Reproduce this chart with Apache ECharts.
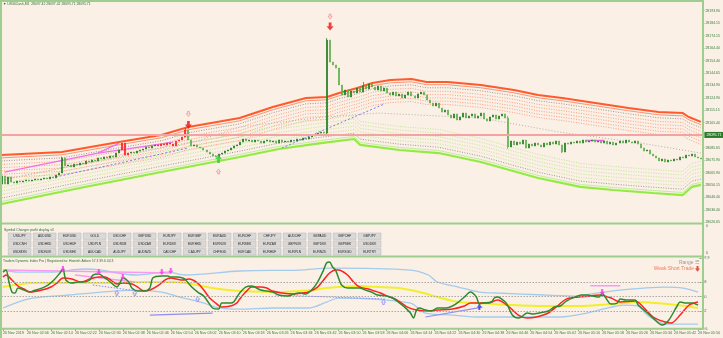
<!DOCTYPE html>
<html>
<head>
<meta charset="utf-8">
<script src="https://cdn.jsdelivr.net/npm/echarts@6/dist/echarts.min.js"></script>
<style>
html,body{margin:0;padding:0;background:#faf0e6;}
#c{width:723px;height:338px;}
</style>
</head>
<body>
<div id="c"></div>
<script>
// ---- price chart data (US30Cash, M1) ----
const timeLabels = ["26 Nov 2019","26 Nov 02:06","26 Nov 02:14","26 Nov 02:22","26 Nov 02:30","26 Nov 02:38",
  "26 Nov 02:46","26 Nov 02:54","26 Nov 03:02","26 Nov 03:10","26 Nov 03:18","26 Nov 03:26","26 Nov 03:34",
  "26 Nov 03:42","26 Nov 03:50","26 Nov 03:58","26 Nov 04:06","26 Nov 04:14","26 Nov 04:22","26 Nov 04:30",
  "26 Nov 04:38","26 Nov 04:46","26 Nov 04:54","26 Nov 05:02","26 Nov 05:10","26 Nov 05:18","26 Nov 05:26",
  "26 Nov 05:34","26 Nov 05:42","26 Nov 05:50"];

const firstOpen = 28056.9;
const closes = [
  28063.3,28056.9,28062.5,28058.5,28057.7,28059.3,28058.5,28059.3,28060.1,28059.3,
  28060.1,28060.9,28060.1,28060.9,28061.7,28060.9,28062.5,28061.7,28064.0,28065.6,
  28077.5,28071.2,28071.9,28070.4,28072.7,28071.9,28073.5,28072.7,28075.1,28074.3,
  28075.9,28075.1,28077.5,28076.7,28078.3,28077.5,28079.1,28078.3,28081.4,28083.8,
  28089.3,28079.8,28081.4,28082.2,28081.4,28083.0,28083.8,28084.6,28086.2,28085.4,
  28087.0,28087.8,28087.0,28088.5,28087.8,28089.3,28088.5,28087.0,28090.9,28091.7,
  28094.1,28099.6,28091.7,28087.0,28087.8,28086.2,28085.4,28083.8,28082.2,28080.6,
  28079.1,28078.3,28080.6,28081.4,28083.0,28083.8,28085.4,28087.0,28087.8,28090.1,
  28092.5,28090.9,28091.7,28090.1,28091.7,28090.9,28089.3,28090.9,28091.7,28090.1,
  28090.9,28089.3,28091.7,28090.1,28090.9,28090.1,28091.7,28090.9,28092.5,28091.7,
  28093.3,28092.5,28094.1,28094.9,28095.7,28097.2,28098.0,28097.2,28170.7,28153.3,
  28151.0,28148.6,28135.2,28127.3,28131.2,28125.7,28130.4,28128.9,28132.8,28129.6,
  28134.4,28132.0,28136.0,28133.6,28131.2,28134.4,28130.4,28132.8,28128.9,28127.3,
  28129.6,28126.5,28128.1,28124.9,28127.3,28129.6,28126.5,28124.9,28128.1,28129.6,
  28127.3,28123.3,28120.9,28118.6,28120.9,28117.0,28113.8,28115.4,28111.5,28109.1,
  28112.3,28107.5,28109.9,28113.0,28109.1,28110.7,28112.3,28109.1,28110.7,28113.0,
  28108.3,28106.7,28109.9,28111.5,28108.3,28110.7,28112.3,28109.1,28086.2,28090.9,
  28087.8,28090.1,28088.5,28091.7,28085.4,28088.5,28087.0,28089.3,28087.8,28086.2,
  28089.3,28087.8,28090.1,28088.5,28090.9,28087.8,28082.2,28089.3,28088.5,28090.1,
  28089.3,28090.9,28089.3,28091.7,28090.1,28090.9,28091.7,28090.1,28090.9,28089.3,
  28090.9,28088.5,28090.1,28087.8,28089.3,28090.9,28089.3,28091.7,28090.1,28089.3,
  28090.9,28088.5,28085.4,28083.0,28083.8,28080.6,28079.1,28077.5,28075.1,28076.7,
  28074.3,28075.9,28075.1,28076.7,28075.9,28078.3,28077.5,28079.8,28079.1,28080.6,
  28078.3,28077.5,28076.7
];
// wick extremes that reach beyond the candle bodies
const wickHighs = {20: 28078.6, 61: 28101.2, 108: 28172.3, 120: 28137.6, 168: 28110.7};
const wickLows  = {108: 28096.5, 168: 28084.6, 186: 28081.4};
// bars painted by the signal filter
const signalBars = [40,41,42,52,53,54,55,56,57,58,59,60,61];

const priceTicks = [28193.90,28184.15,28174.15,28164.40,28154.40,28144.65,28134.90,28124.90,28115.15,
  28105.40,28085.65,28075.90,28065.90,28056.15,28046.40,28036.40,28026.65];
const bidPrice = 28095.71;

// envelope bands: outer edge and level offsets (price units)
const upperBand = [[0,28079.8],[20,28082.2],[39,28090.1],[53,28095.7],[62,28102.0],[79,28109.1],[90,28117.8],
  [101,28124.9],[108,28125.7],[112,28128.9],[118,28132.8],[123,28136.8],[129,28139.1],[136,28139.9],[141,28137.6],
  [148,28137.6],[159,28135.2],[170,28131.2],[178,28127.3],[186,28124.9],[197,28121.0],[208,28117.0],[218,28113.8],
  [226,28113.0],[228,28109.9],[232,28106.0]];
const upperLevels = [0, 2.2, 4.6, 7.4, 10.0, 12.6, 15.2, 17.8];
const lowerBand = [[0,28041.1],[26,28053.8],[53,28066.4],[79,28078.3],[92,28084.6],[106,28089.3],[117,28092.5],
  [119,28087.8],[132,28083.8],[145,28081.4],[159,28074.3],[178,28061.7],[192,28054.6],[203,28052.2],[216,28049.8],
  [226,28048.2],[229,28054.6],[232,28056.2]];
const lowerLevels = [0, 2.0, 4.6, 7.4, 10.2, 13.0, 15.8, 18.6];
const midLine = [[0,28060.1],[33,28075.9],[66,28091.7],[79,28102.0],[107,28109.9],[125,28113.0],[159,28109.1],
  [185,28098.0],[212,28089.3],[232,28081.4]];
const trendA = [[18,28062.5],[62,28085.4]];
const trendB = [[93,28085.4],[127,28120.2]];
const pinkA = [[1,28066.4],[32,28081.4],[39,28089.3]];
const pinkB = [[32,28081.4],[57,28090.1]];
const pinkC = [[194,28091.3],[200,28091.3]];
const sellArrows = [[62,28103.6],[109,28181.4]];
const sellHollow = [[62,28112.3],[109,28189.3]];
const buyArrows = [[72,28076.7]];
const buyHollow = [[72,28066.8]];

// ---- Traders Dynamic Index ----
const tdiTicks = [97.9, 68, 50, 32, 9.6];
const tdiLevels = [68, 50, 32];
const tdiGreen = [[0,80.9],[1,83.4],[2,68.4],[3,55.8],[4,54.6],[5,60.8],[7,58.3],[9,55.8],[10,57.1],[13,60.8],
  [15,64.6],[17,70.9],[19,79.7],[20,84.7],[21,70.9],[23,67.1],[25,68.4],[27,68.4],[29,70.9],[30,77.2],[32,78.4],
  [34,73.4],[35,70.9],[37,64.6],[38,62.1],[39,67.1],[40,73.4],[42,68.4],[43,60.8],[45,57.1],[47,57.1],[49,60.8],
  [50,73.4],[53,75.9],[55,75.9],[56,74.6],[58,74.6],[60,73.4],[61,70.9],[63,62.1],[65,55.8],[67,50.8],[68,45.8],
  [70,35.8],[72,34.5],[73,42.0],[76,42.0],[77,43.3],[79,54.6],[81,62.1],[83,63.4],[86,58.3],[88,57.1],[90,55.8],
  [92,52.1],[95,50.8],[97,53.3],[99,54.6],[101,53.3],[103,58.3],[105,68.4],[107,83.4],[108,92.2],[109,93.5],
  [110,87.2],[111,83.4],[112,73.4],[113,64.6],[115,60.8],[119,60.8],[121,58.3],[123,55.8],[125,52.1],[128,50.8],
  [130,48.3],[132,43.3],[134,37.0],[136,29.5],[137,23.2],[138,33.2],[139,35.8],[141,33.2],[143,32.0],[145,35.8],
  [148,35.8],[150,38.3],[152,43.3],[154,49.6],[156,55.8],[158,49.6],[159,40.7],[160,42.0],[163,43.3],[164,48.3],
  [165,49.6],[166,48.3],[168,42.0],[170,27.0],[172,23.2],[173,24.5],[175,29.5],[177,28.2],[179,29.5],[182,32.0],
  [184,37.0],[186,38.3],[188,44.5],[191,49.6],[193,52.1],[195,52.1],[197,50.8],[199,49.6],[200,54.6],[201,49.6],
  [203,40.7],[205,42.0],[206,47.0],[208,45.8],[211,45.8],[212,39.5],[214,33.2],[217,23.2],[220,14.4],[222,19.4],
  [225,38.3],[226,43.3],[228,42.0],[230,42.0],[232,39.5]];
const tdiRed = [[0,74.6],[1,77.2],[3,70.9],[5,63.4],[7,59.6],[9,55.8],[13,58.3],[16,62.1],[18,67.1],[20,73.4],
  [23,72.1],[26,68.4],[29,72.1],[32,74.6],[34,74.6],[36,70.9],[38,65.9],[40,67.1],[43,65.9],[45,62.1],[47,57.1],
  [49,58.3],[52,64.6],[54,70.9],[56,73.4],[58,72.1],[60,70.9],[62,72.1],[65,67.1],[67,58.3],[69,48.3],[71,42.0],
  [73,37.0],[76,38.3],[78,42.0],[79,47.0],[81,55.8],[83,62.1],[86,62.1],[88,60.8],[90,57.1],[93,54.6],[97,53.3],
  [100,54.6],[102,55.8],[105,62.1],[107,70.9],[109,79.7],[111,83.4],[112,83.4],[115,77.2],[117,68.4],[119,62.1],
  [122,59.6],[124,57.1],[126,54.6],[129,49.6],[131,47.0],[133,42.0],[135,37.0],[138,33.2],[141,32.0],[145,33.2],
  [150,34.5],[154,38.3],[156,42.0],[159,42.0],[162,42.0],[165,45.8],[169,37.0],[172,27.0],[175,23.2],[178,24.5],
  [182,29.5],[185,38.3],[188,47.0],[192,49.6],[196,50.8],[199,52.1],[203,48.3],[206,43.3],[211,44.5],[214,35.8],
  [217,24.5],[221,18.2],[223,16.9],[226,27.0],[229,39.5],[232,43.3]];
const tdiBase = [[0,62.1],[4,64.6],[10,67.1],[22,67.1],[33,67.1],[44,68.4],[55,68.4],[61,67.1],[68,62.1],[75,58.3],
  [79,57.1],[92,55.8],[103,58.3],[108,60.8],[112,62.1],[119,63.4],[125,62.1],[132,60.8],[139,55.8],[145,49.6],
  [152,43.3],[159,42.0],[170,39.5],[181,38.3],[192,38.3],[203,40.7],[212,43.3],[218,42.0],[225,39.5],[232,35.8]];
const tdiUpper = [[0,83.4],[5,80.9],[16,80.9],[27,84.7],[33,83.4],[38,79.7],[44,77.2],[55,80.9],[61,77.2],
  [79,82.2],[99,83.4],[109,85.9],[136,83.4],[142,77.2],[145,68.4],[152,62.1],[159,55.8],[165,54.6],[181,52.1],
  [192,50.8],[196,53.3],[206,58.3],[214,60.8],[221,62.1],[227,60.8],[232,55.8]];
const tdiLower = [[0,35.8],[5,43.3],[10,48.3],[22,52.1],[33,55.8],[44,58.3],[53,55.8],[59,49.6],[66,43.3],
  [71,37.0],[77,34.5],[79,34.5],[90,35.8],[102,35.8],[108,43.3],[112,48.3],[136,42.0],[141,29.5],[150,27.0],
  [159,24.5],[175,24.5],[186,24.5],[195,29.5],[203,37.0],[207,39.5],[212,38.3],[215,27.0],[221,15.7],[232,15.7]];
const tdiPinkA = [[0,83.4],[56,79.7]];
const tdiPinkB = [[24,77.2],[44,68.4]];
const tdiPinkC = [[196,63.8],[206,63.8]];
const tdiDotA = [[30,64.6],[45,57.1]];
const tdiDotB = [[91,52.1],[128,47.0]];
const tdiSlopeA = [[49,27.0],[70,29.5]];
const tdiSlopeB = [[141,24.5],[160,37.0]];
const tdiSellMarks = [[20,84.7],[32,80.9],[40,74.6],[53,80.9],[56,82.2],[200,55.8]];
const tdiBuyHollow = [[38,54.6],[44,54.6],[65,47.0],[127,43.3]];
const tdiBuyFilled = [[159,37.0]];

// ---- symbol changer panel ----
const symbolRows = [
  ["USDJPY","AUDUSD","EURUSD","GOLD","USDCHF","GBPUSD","EURJPY","EURGBP","EURAUD","EURCHF","CHFJPY","AUDCHF","GBPAUD","GBPCHF","GBPJPY"],
  ["USDCNH","USDHKD","USDHUF","USDPLN","USDRUB","USDZAR","EURDKK","EURHKD","EURNOK","EURSEK","EURZAR","GBPNOK","GBPDKK","GBPSEK","USDDKK"],
  ["USDMXN","USDNOK","USDSEK","AUDCAD","AUDJPY","AUDNZD","CADCHF","CADJPY","CHFSGD","EURCAD","EURHUF","EURPLN","EURNZD","EURSGD","EURTRY"]
];

// ---------------------------------------------------------------
const FONT = 'Liberation Sans, Arial, sans-serif';
const FRAME = '#9fcc8f';
const AXIS_TXT = '#3b7a3b';
const cats = closes.map((_, i) => String(i));

const candles = closes.map((c, i) => {
  const o = i === 0 ? firstOpen : closes[i - 1];
  const h = wickHighs[i] !== undefined ? wickHighs[i] : Math.max(o, c);
  const l = wickLows[i] !== undefined ? wickLows[i] : Math.min(o, c);
  const item = { value: [o, c, l, h] };
  if (signalBars.indexOf(i) >= 0) {
    item.itemStyle = { color: '#ff1c1c', color0: '#ff1c1c', borderColor: '#ff1c1c', borderColor0: '#ff1c1c' };
  }
  return item;
});

function line(data, xi, color, width, type, extra) {
  return Object.assign({
    type: 'line', xAxisIndex: xi, yAxisIndex: xi, data: data, symbol: 'none', silent: true,
    animation: false, lineStyle: { color: color, width: width, type: type || 'solid' }
  }, extra || {});
}

const series = [];
// upper envelope
upperLevels.forEach((off, k) => {
  const d = upperBand.map(p => [p[0], p[1] - off]);
  let st;
  if (k === 0) st = ['#ff5a2c', 2, 'solid'];
  else if (k === 1) st = ['#ff9473', 1, 'solid'];
  else if (k === 2) st = ['#a09792', 1, [1, 1.5]];
  else st = ['#ff9e80', 1, [1, 1.5]];
  series.push(line(d, 0, st[0], st[1], st[2], { z: 2 }));
});
// lower envelope
lowerLevels.forEach((off, k) => {
  const d = lowerBand.map(p => [p[0], p[1] + off]);
  let st;
  if (k === 0) st = ['#92ea42', 2.2, 'solid'];
  else if (k === 1) st = ['#c2ee9c', 1, 'solid'];
  else if (k === 2) st = ['#a09792', 1, [1, 1.5]];
  else st = ['#c4e596', 1, [1, 1.5]];
  series.push(line(d, 0, st[0], st[1], st[2], { z: 2 }));
});
series.push(line(midLine, 0, '#b8aea8', 1, [1, 2], { z: 2 }));
series.push(line(trendA, 0, '#7d7df0', 1, [2, 2], { z: 3 }));
series.push(line(trendB, 0, '#7d7df0', 1, [2, 2], { z: 3 }));
series.push(line(pinkA, 0, '#f070e8', 1.3, 'solid', { z: 3 }));
series.push(line(pinkB, 0, '#f070e8', 1.3, 'solid', { z: 3 }));
series.push(line(pinkC, 0, '#f060f0', 1.5, 'solid', { z: 3 }));

series.push({
  type: 'candlestick', xAxisIndex: 0, yAxisIndex: 0, data: candles, barWidth: 1.5, silent: true,
  animation: false, z: 4,
  itemStyle: { color: '#1f7d1f', color0: '#5fae4c', borderColor: '#1f7d1f', borderColor0: '#5fae4c', borderWidth: 0.7 },
  markLine: {
    symbol: 'none', silent: true, animation: false,
    data: [{ yAxis: bidPrice }],
    lineStyle: { color: '#f4a2a2', width: 2, type: 'solid' },
    label: {
      show: true, position: 'end', distance: 2, formatter: () => bidPrice.toFixed(2),
      color: '#ffffff', backgroundColor: '#2b7a2b', fontSize: 3.6, fontFamily: FONT, padding: [1, 2, 1, 2]
    }
  }
});

const ARROW_DOWN = 'path://M3,0 L7,0 L7,5 L10,5 L5,11 L0,5 L3,5 Z';
const ARROW_UP = 'path://M5,0 L10,6 L7,6 L7,11 L3,11 L3,6 L0,6 Z';
function marks(data, xi, symbol, size, fill, border, bw) {
  return {
    type: 'scatter', xAxisIndex: xi, yAxisIndex: xi, data: data, symbol: symbol, symbolSize: size,
    silent: true, animation: false, z: 6,
    itemStyle: { color: fill, borderColor: border, borderWidth: bw || 0 }
  };
}
series.push(marks(sellArrows, 0, ARROW_DOWN, [7, 8], '#ee1111'));
series.push(marks(sellHollow, 0, ARROW_DOWN, [4, 5], 'rgba(0,0,0,0)', '#f08080', 0.8));
series.push(marks(buyArrows, 0, ARROW_UP, [7, 8], '#33cc33'));
series.push(marks(buyHollow, 0, ARROW_UP, [4, 5], 'rgba(0,0,0,0)', '#f08080', 0.8));

// TDI pane
series.push(line(tdiUpper, 1, '#a3cbed', 1.3, 'solid', { smooth: 0.3, z: 2 }));
series.push(line(tdiLower, 1, '#a3cbed', 1.3, 'solid', { smooth: 0.3, z: 2 }));
series.push(line(tdiBase, 1, '#f2ef2a', 2, 'solid', {
  smooth: 0.3, z: 3,
  markLine: {
    symbol: 'none', silent: true, animation: false, label: { show: false },
    lineStyle: { color: '#a8a8a8', width: 1, type: [1.5, 1.5] },
    data: tdiLevels.map(v => ({ yAxis: v }))
  }
}));
series.push(line(tdiPinkA, 1, '#f79af2', 1.5, 'solid', { z: 3 }));
series.push(line(tdiPinkB, 1, '#f79af2', 1.5, 'solid', { z: 3 }));
series.push(line(tdiPinkC, 1, '#f79af2', 1.5, 'solid', { z: 3 }));
series.push(line(tdiDotA, 1, '#8a8af5', 1, [1.5, 1.5], { z: 3 }));
series.push(line(tdiDotB, 1, '#8a8af5', 1, [1.5, 1.5], { z: 3 }));
series.push(line(tdiSlopeA, 1, '#8f8fef', 1.2, 'solid', { z: 3 }));
series.push(line(tdiSlopeB, 1, '#8f8fef', 1.2, 'solid', { z: 3 }));
series.push(line(tdiRed, 1, '#ff2222', 1.5, 'solid', { smooth: 0.3, z: 4 }));
series.push(line(tdiGreen, 1, '#2f8a2f', 1.5, 'solid', { smooth: 0.3, z: 5 }));
series.push(marks(tdiSellMarks, 1, ARROW_DOWN, [5, 6], '#ff33f0'));
series.push(marks(tdiBuyHollow, 1, ARROW_UP, [4, 5], 'rgba(0,0,0,0)', '#7c7cff', 0.8));
series.push(marks(tdiBuyFilled, 1, ARROW_UP, [5, 6], '#3030ff'));

// ---- graphics: frame, captions, symbol buttons ----
const graphic = [];
const frameLines = [[0, 1, 703, 1], [1, 0, 1, 338], [703, 0, 703, 329], [0, 223.5, 703, 223.5], [0, 256.5, 703, 256.5], [0, 328.8, 703, 328.8]];
frameLines.forEach(l => graphic.push({
  type: 'line', silent: true, z: 10, shape: { x1: l[0], y1: l[1], x2: l[2], y2: l[3] },
  style: { stroke: FRAME, lineWidth: 2 }
}));
function txt(x, y, s, size, color, align, extra) {
  graphic.push({
    type: 'text', x: x, y: y, silent: true, z: 11,
    style: Object.assign({ text: s, fontSize: size, fill: color, fontFamily: FONT, align: align || 'left', verticalAlign: 'middle' }, extra || {})
  });
}
txt(3, 4.5, '\u25BC US30Cash,M1  28097.42 28097.42 28095.71 28095.71', 3.4, '#2f6e2f');
txt(4, 229.8, 'Symbol Changer profit display v3', 3.4, '#2f6e2f');
txt(3, 261.5, 'Traders Dynamic Index Pro | Registered to: Hamish Aitken 57.3 39.6 44.3', 3.4, '#2f6e2f');
txt(706, 226.5, '0', 3.5, AXIS_TXT);
txt(706, 253.5, '0', 3.5, AXIS_TXT);
txt(699, 262.5, 'Range \u2630', 5, '#9a9a9a', 'right');
txt(694, 269, 'Weak Short Trade', 5, '#f27a5e', 'right');
graphic.push({
  type: 'polygon', silent: true, z: 11,
  shape: { points: [[696.5, 266], [698.5, 266], [698.5, 268.6], [700, 268.6], [697.5, 271.8], [695, 268.6], [696.5, 268.6]] },
  style: { fill: '#f04a3a' }
});
symbolRows.forEach((row, r) => {
  row.forEach((name, c) => {
    const x = 8.3 + c * 25.0, y = 233 + r * 7.8;
    graphic.push({
      type: 'rect', silent: true, z: 10, shape: { x: x, y: y, width: 22.7, height: 6.4 },
      style: { fill: '#d9d9d9', stroke: '#b4b4b4', lineWidth: 0.5 }
    });
    txt(x + 11.35, y + 3.3, name, 3.2, '#222222', 'center');
  });
});

const option = {
  backgroundColor: '#faf0e6',
  animation: false,
  textStyle: { fontFamily: FONT },
  grid: [
    { left: 0, right: 20, top: 2, height: 221 },
    { left: 0, right: 20, top: 258.5, height: 70.4 }
  ],
  xAxis: [
    { type: 'category', gridIndex: 0, data: cats, boundaryGap: true,
      axisLine: { show: false }, axisTick: { show: false }, axisLabel: { show: false }, splitLine: { show: false } },
    { type: 'category', gridIndex: 1, data: cats, boundaryGap: true,
      axisLine: { show: false },
      axisTick: { show: true, interval: 7, alignWithLabel: true, length: 2, lineStyle: { color: '#6a9a6a', width: 0.8 } },
      axisLabel: { show: true, interval: 7, align: 'left', margin: 2.5, fontSize: 3.7, color: AXIS_TXT,
        formatter: (v, idx) => (idx % 8 === 0 ? timeLabels[idx / 8] : '') },
      splitLine: { show: false } }
  ],
  yAxis: [
    { type: 'value', gridIndex: 0, position: 'right', min: 28026.1, max: 28200.8,
      axisLine: { show: false },
      axisTick: { show: true, customValues: priceTicks, length: 2, lineStyle: { color: '#6a9a6a', width: 0.8 } },
      axisLabel: { show: true, customValues: priceTicks, formatter: v => v.toFixed(2), fontSize: 3.5, color: AXIS_TXT, margin: 3 },
      splitLine: { show: false } },
    { type: 'value', gridIndex: 1, position: 'right', min: 9.6, max: 97.9,
      axisLine: { show: false },
      axisTick: { show: true, customValues: tdiTicks, length: 2, lineStyle: { color: '#6a9a6a', width: 0.8 } },
      axisLabel: { show: true, customValues: tdiTicks, showMinLabel: true, showMaxLabel: true,
        formatter: v => String(v), fontSize: 3.5, color: AXIS_TXT, margin: 3 },
      splitLine: { show: false } }
  ],
  series: series,
  graphic: graphic
};

const chart = echarts.init(document.getElementById('c'), null, { renderer: 'canvas', width: 723, height: 338 });
chart.setOption(option);
</script>
</body>
</html>
